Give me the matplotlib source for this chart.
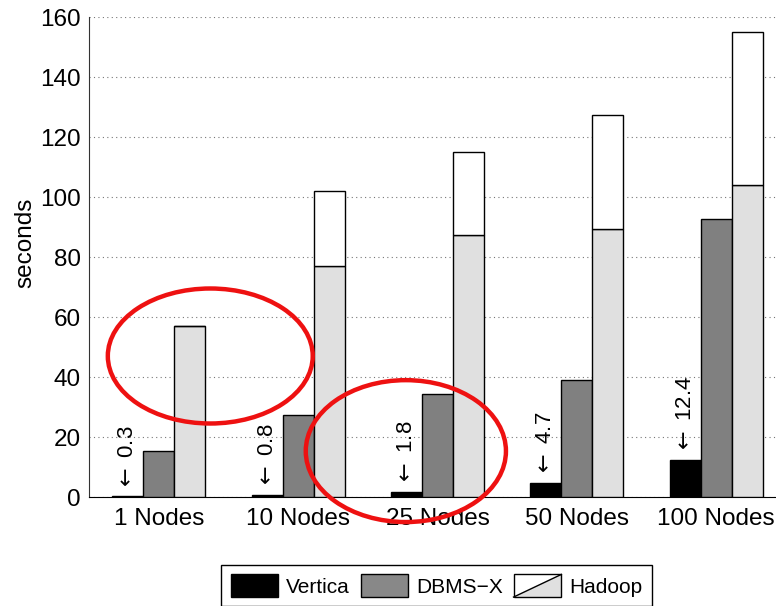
import matplotlib
matplotlib.use("Agg")
import matplotlib.pyplot as plt
import numpy as np
from matplotlib.patches import Rectangle, Polygon, Patch, Ellipse
from matplotlib.lines import Line2D
from matplotlib.legend_handler import HandlerBase

plt.rcParams["font.family"] = ["Liberation Sans", "DejaVu Sans"]

# ---------- data (seconds) ----------
clusters = ["1 Nodes", "10 Nodes", "25 Nodes", "50 Nodes", "100 Nodes"]
vertica = [0.3, 0.8, 1.8, 4.7, 12.4]
dbms_x = [15.3, 27.5, 34.5, 39.0, 92.8]
hadoop_load = [57.0, 77.0, 87.5, 89.5, 104.0]
hadoop_total = [57.0, 102.0, 115.0, 127.5, 155.0]
yticks = [0, 20, 40, 60, 80, 100, 120, 140, 160]

C_VERTICA = "#000000"
C_DBMS = "#808080"
C_HADOOP = "#e0e0e0"
FS = 17.5


class HadoopHandler(HandlerBase):
    """Two-tone legend swatch split by a diagonal (white top-left, grey bottom-right)."""

    def create_artists(self, legend, orig_handle, xdescent, ydescent,
                       width, height, fontsize, trans):
        x0, y0 = -xdescent, -ydescent
        lower = Polygon([[x0, y0], [x0 + width, y0], [x0 + width, y0 + height]],
                        closed=True, facecolor=C_HADOOP, edgecolor="none", transform=trans)
        upper = Polygon([[x0, y0], [x0 + width, y0 + height], [x0, y0 + height]],
                        closed=True, facecolor="white", edgecolor="none", transform=trans)
        diag = Line2D([x0, x0 + width], [y0, y0 + height], color="black", lw=1.0, transform=trans)
        box = Rectangle((x0, y0), width, height, fill=False, edgecolor="black", lw=1.0, transform=trans)
        return [lower, upper, diag, box]


fig = plt.figure(figsize=(7.76, 6.06), dpi=100)
ax = fig.add_axes([89 / 776, 1 - 497 / 606, (786 - 89) / 776, (497 - 17) / 606])

x = np.arange(len(clusters))
w = 0.222

ax.bar(x - w, vertica, w, color=C_VERTICA, edgecolor="black", linewidth=1.0, zorder=3)
ax.bar(x, dbms_x, w, color=C_DBMS, edgecolor="black", linewidth=1.0, zorder=3)
ax.bar(x + w, hadoop_load, w, color=C_HADOOP, edgecolor="black", linewidth=1.0, zorder=3)
upper = np.array(hadoop_total) - np.array(hadoop_load)
ax.bar(x + w, upper, w, bottom=hadoop_load, color="white", edgecolor="black",
       linewidth=1.0, zorder=3)

# small Vertica values are labelled with a vertical arrow + number
for xi, v in zip(x, vertica):
    ax.annotate(f"$\\leftarrow$ {v}", xy=(xi - w, v), xytext=(0, 4), textcoords="offset points",
                rotation=90, ha="center", va="bottom", fontsize=FS - 1.5, zorder=4)

ax.set_xlim(-0.5, len(clusters) - 0.5)
ax.set_ylim(0, 160)
ax.set_yticks(yticks)
ax.set_xticks(x)
ax.set_xticklabels(clusters, fontsize=FS)
ax.tick_params(axis="y", labelsize=FS, length=0, pad=6)
ax.tick_params(axis="x", length=0, pad=8)
ax.set_ylabel("seconds", fontsize=FS)
ax.yaxis.set_label_coords(-0.075, 0.53)

ax.yaxis.grid(True, linestyle=(0, (1, 3)), color="#777777", linewidth=0.8, zorder=0)
ax.set_axisbelow(True)
ax.spines["top"].set_visible(False)
ax.spines["right"].set_visible(False)
ax.spines["left"].set_color("#333333")
ax.spines["bottom"].set_color("black")

# red hand-drawn highlight circles
for cx, cy, ew, eh in [(0.37, 47.0, 1.47, 45.0), (1.773, 15.3, 1.436, 47.3)]:
    ax.add_patch(Ellipse((cx, cy), ew, eh, fill=False, edgecolor="#ee1111",
                         linewidth=3.2, clip_on=False, zorder=10))

handles = [Patch(facecolor=C_VERTICA, edgecolor="black"),
           Patch(facecolor="#888888", edgecolor="black"),
           Patch(facecolor=C_HADOOP, edgecolor="black")]
fig.legend(handles, ["Vertica", "DBMS\u2212X", "Hadoop"],
           handler_map={handles[2]: HadoopHandler()},
           loc="upper center", bbox_to_anchor=(436.5 / 776, 1 - 565 / 606),
           ncol=3, fontsize=15, frameon=True, fancybox=False, edgecolor="black",
           framealpha=1, handlelength=2.3, handleheight=1.3, handletextpad=0.38,
           columnspacing=0.5, borderpad=0.45, borderaxespad=0)

fig.savefig("out.png", dpi=100)
